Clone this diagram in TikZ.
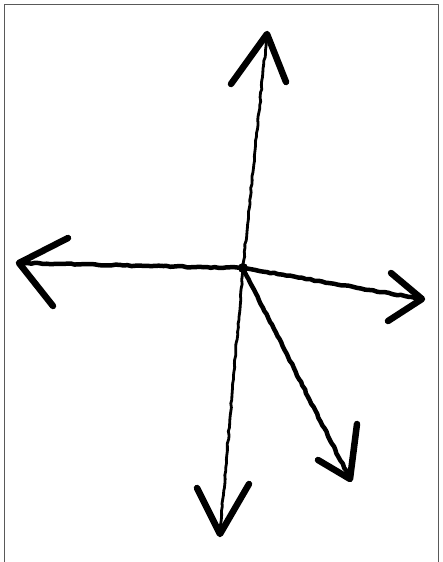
\documentclass[tikz,border=0pt]{standalone}
\usetikzlibrary{decorations.pathmorphing}
\begin{document}
\begin{tikzpicture}[x=1pt, y=-1pt, line cap=round, line join=round,
    shaft/.style={line width=4.5pt, decorate, decoration={random steps, segment length=4pt, amplitude=0.6pt}},
    thin shaft/.style={shaft, line width=2.8pt},
    barb/.style={line width=6.5pt}]
    \useasboundingbox (0, 0) rectangle (442, 562);

    % Frame (runs off the bottom)
    \begin{scope}
        \clip (0, 0) rectangle (442, 562);
        \draw[gray!70!black, line width=1pt] (4.5, 570) -- (4.5, 4.5) -- (438.5, 4.5) -- (438.5, 570);
    \end{scope}

    % Centre and tips
    \coordinate (c) at (243, 268);
    \coordinate (up) at (267, 34);
    \coordinate (lt) at (19, 263);
    \coordinate (rt) at (422, 299);
    \coordinate (dr) at (350, 479);
    \coordinate (dn) at (220, 534);

    % Shafts
    \draw[thin shaft] (c) -- (up);
    \draw[shaft] (c) -- (lt);
    \draw[shaft] (c) -- (rt);
    \draw[shaft] (c) -- (dr);
    \draw[thin shaft] (c) -- (dn);
    \fill (c) circle (5);

    % Arrow heads
    \draw[barb] (231, 84) -- (up) -- (286, 82);
    \draw[barb] (68, 238) -- (lt) -- (53, 306);
    \draw[barb] (391, 273) -- (rt) -- (388, 321);
    \draw[barb] (357, 424) -- (dr) -- (318, 460);
    \draw[barb] (197, 488) -- (dn) -- (249, 484);
\end{tikzpicture}
\end{document}
